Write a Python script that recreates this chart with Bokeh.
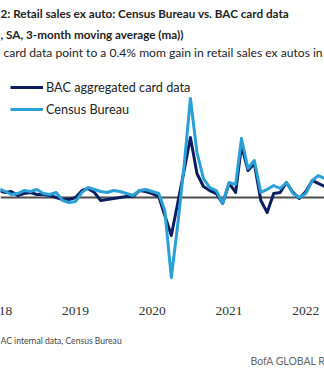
import pandas as pd
from bokeh.plotting import figure
from bokeh.models import Range1d, Span, Label, LabelSet, Legend, LegendItem, ColumnDataSource
from bokeh.embed import file_html
from bokeh.resources import INLINE

# ---- data (3-month moving average, % mom) ----
months = pd.date_range("2018-01-01", "2022-04-01", freq="MS")

bac_card = [0.58, 0.42, 0.5, 0.17, 0.33, 0.42, 0.25, 0.25, 0.17, 0.0, -0.17, -0.17,
            0.0, 0.58, 0.75, 0.42, -0.25, -0.17, -0.08, 0.0, 0.08, 0.08, 0.58, 0.5,
            0.33, 0.08, -1.5, -3.17, -0.5, 2.25, 5.0, 2.0, 0.92, 0.58, 0.33, -0.5,
            1.17, 0.42, 4.33, 2.25, 2.83, -0.25, -1.25, 0.33, 0.42, 1.25, 0.42, -0.08,
            0.5, 1.42, 1.17, 0.92]

census = [0.75, 0.5, 0.25, 0.33, 0.58, 0.5, 0.67, 0.33, 0.25, 0.42, -0.25, -0.42,
          -0.33, 0.42, 0.83, 0.67, 0.5, 0.42, 0.58, 0.5, 0.33, 0.17, 0.58, 0.67,
          0.5, 0.33, -1.08, -6.67, -2.33, 2.67, 8.25, 3.75, 1.58, 0.83, 0.58, -0.5,
          1.25, 1.08, 4.92, 2.42, 3.08, 0.42, 0.67, 1.0, 0.75, 1.25, 0.33, 0.0,
          0.33, 1.42, 1.83, 1.58]

year_labels = ["2018", "2019", "2020", "2021", "2022"]

title_1 = "2: Retail sales ex auto: Census Bureau vs. BAC card data"
title_2 = ", SA, 3-month moving average (ma))"
subtitle = "card data point to a 0.4% mom gain in retail sales ex autos in"
source = "AC internal data, Census  Bureau"
brand = "BofA GLOBAL RESEARCH"

NAVY = "#0b1f5e"
CYAN = "#2aa0d8"
FONT = "Lato"

p = figure(width=324, height=373, x_axis_type=None, y_axis_type=None,
           x_range=Range1d(pd.Timestamp("2018-01-09"), pd.Timestamp("2022-03-31")),
           y_range=Range1d(-14.667, 16.417),
           toolbar_location=None, output_backend="svg",
           min_border_left=0, min_border_right=0, min_border_top=0, min_border_bottom=0)
p.outline_line_color = None
p.grid.visible = False
p.background_fill_color = "white"
p.border_fill_color = "white"

zero = Span(location=0, dimension="width", line_color="#4d4d4d", line_width=2)
zero.level = "underlay"
p.add_layout(zero)

r_bac = p.line(months, bac_card, line_color=NAVY, line_width=3, line_join="round")
r_cen = p.line(months, census, line_color=CYAN, line_width=3, line_join="round")

# year tick labels on the time scale
year_src = ColumnDataSource(dict(
    x=[pd.Timestamp(f"{y}-01-01") for y in year_labels],
    y=[-9.42] * len(year_labels),
    text=year_labels))
p.add_layout(LabelSet(x="x", y="y", text="text", source=year_src,
                      text_align="center", text_baseline="middle",
                      text_font=FONT, text_font_size="13.5px", text_color="#333333"))

legend = Legend(items=[LegendItem(label="BAC aggregated card data", renderers=[r_bac]),
                       LegendItem(label="Census Bureau", renderers=[r_cen])],
                location=(10, 254), glyph_width=33, glyph_height=20, label_height=20,
                label_standoff=3, spacing=2, padding=0, margin=0,
                border_line_alpha=0, background_fill_alpha=0,
                label_text_font=FONT, label_text_font_size="12.7px", label_text_color="#222222")
p.add_layout(legend)

def lab(txt, x, y, size, bold=False, color="#222222"):
    p.add_layout(Label(x=x, y=y, x_units="screen", y_units="screen", text=txt,
                       text_baseline="middle", text_font=FONT, text_font_size=size,
                       text_font_style="bold" if bold else "normal", text_color=color))

lab(title_1, 0, 361, "11.7px", bold=True)
lab(title_2, 0, 340, "11.7px", bold=True)
lab(subtitle, 3, 321, "12.1px")
lab(source, 0, 33, "8.6px", color="#444444")
lab(brand, 250, 13, "10.5px", color="#666666")

open("out.html", "w").write(file_html(p, INLINE))
